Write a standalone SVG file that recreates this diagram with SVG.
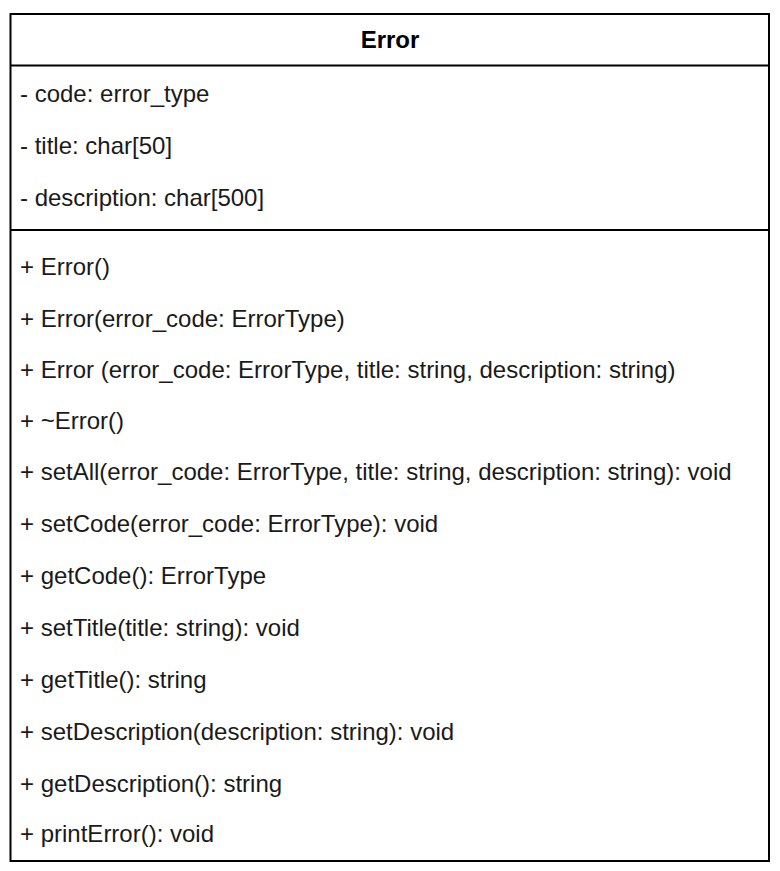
<svg xmlns="http://www.w3.org/2000/svg" width="780" height="871" viewBox="0 0 780 871">
  <style>
    .box { fill: #ffffff; stroke: #000000; stroke-width: 2; }
    .sep { stroke: #000000; stroke-width: 2; }
    .title { font-family: "Liberation Sans", Arial, sans-serif; font-size: 24px; font-weight: bold; fill: #000000; }
    .member { font-family: "Liberation Sans", Arial, sans-serif; font-size: 24px; fill: #1a1a1a; }
  </style>
  <rect width="780" height="871" fill="#ffffff"/>
  <g id="class-error">
    <rect class="box" x="10.5" y="14" width="758.5" height="847"/>
    <line class="sep" x1="10.5" y1="65.5" x2="769" y2="65.5"/>
    <line class="sep" x1="10.5" y1="230" x2="769" y2="230"/>
    <text class="title" x="390" y="48" text-anchor="middle">Error</text>
    <g id="attributes">
      <text class="member" x="20" y="102">- code: error_type</text>
      <text class="member" x="20" y="154">- title: char[50]</text>
      <text class="member" x="20" y="206">- description: char[500]</text>
    </g>
    <g id="operations">
      <text class="member" x="20" y="275">+ Error()</text>
      <text class="member" x="20" y="327">+ Error(error_code: ErrorType)</text>
      <text class="member" x="20" y="378">+ Error (error_code: ErrorType, title: string, description: string)</text>
      <text class="member" x="20" y="429">+ ~Error()</text>
      <text class="member" x="20" y="480">+ setAll(error_code: ErrorType, title: string, description: string): void</text>
      <text class="member" x="20" y="532">+ setCode(error_code: ErrorType): void</text>
      <text class="member" x="20" y="584">+ getCode(): ErrorType</text>
      <text class="member" x="20" y="636">+ setTitle(title: string): void</text>
      <text class="member" x="20" y="688">+ getTitle(): string</text>
      <text class="member" x="20" y="740">+ setDescription(description: string): void</text>
      <text class="member" x="20" y="792">+ getDescription(): string</text>
      <text class="member" x="20" y="842">+ printError(): void</text>
    </g>
  </g>
</svg>
